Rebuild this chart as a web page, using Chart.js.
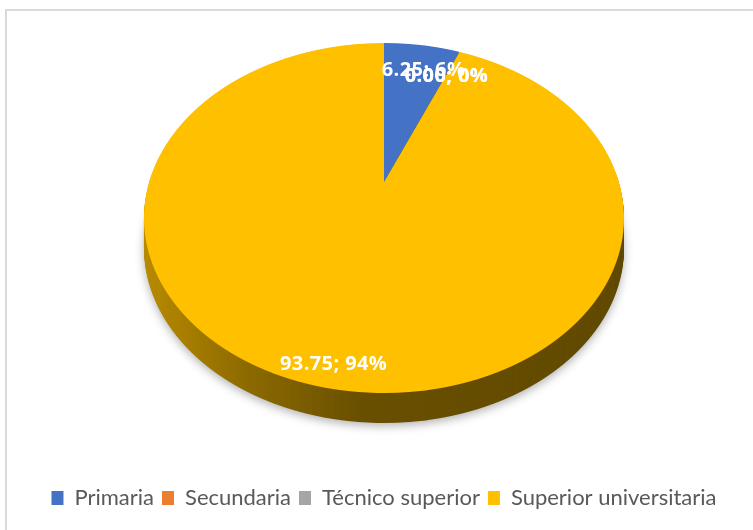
<!DOCTYPE html>
<html>
<head>
<meta charset="utf-8">
<script src="https://cdn.jsdelivr.net/npm/chart.js@4.4.0/dist/chart.umd.min.js"></script>
<style>
    body { margin: 0; background: #ffffff; }
    #frame {
        position: absolute; left: 5px; top: 9px;
        width: 800px; height: 600px;
        border: 2px solid #d9d9d9;
    }
    #wrap { position: absolute; left: 0; top: 0; width: 753px; height: 530px; overflow: hidden; }
    canvas { position: absolute; left: 0; top: 0; }
</style>
</head>
<body>
<div id="wrap">
    <div id="frame"></div>
    <canvas id="pieChart" width="753" height="530"></canvas>
</div>
<script>
// Data
const levels = ['Primaria', 'Secundaria', 'Técnico superior', 'Superior universitaria'];
const shares = [6.25, 0, 0, 93.75];
const sliceColors = ['#4472c4', '#ed7d31', '#a5a5a5', '#ffc000'];

// 3D look: the flat pie is projected in perspective onto the page
const APEX_Y = 182;      // screen y of the pie centre
const RX = 240;          // widest half width on screen
const RY_BACK = 139;     // apex to far rim
const RY_FRONT = 211;    // apex to near rim
const DEPTH = 30;        // thickness of the side wall

const pie3dPlugin = {
    id: 'pie3d',
    beforeDatasetsDraw: function(chart) {
        const ctx = chart.ctx;
        const arcs = chart.getDatasetMeta(0).data;
        if (!arcs.length) return false;
        const cx = arcs[0].x, cy = arcs[0].y, R = arcs[0].outerRadius;
        const W = chart.width, H = chart.height;

        // perspective: X = cx + K*u/(1-a*v), Y = APEX_Y + L*v/(1-a*v)
        const a = (RY_FRONT - RY_BACK) / (RY_FRONT + RY_BACK);
        const L = RY_BACK * (1 + a);
        const K = RX * Math.sqrt(1 - a * a);
        const vAt = function(d) { return d / (L + a * d); };
        const screenY = function(v) { return APEX_Y + L * v / (1 - a * v); };
        const screenX = function(u, v) { return cx + K * u / (1 - a * v); };

        // draw the pie one screen row at a time, each row with its own scale
        function drawFace(target) {
            const y0 = Math.floor(APEX_Y - RY_BACK) - 1;
            const y1 = Math.ceil(APEX_Y + RY_FRONT) + 1;
            for (let y = y0; y < y1; y++) {
                const v0 = vAt(y - APEX_Y), v1 = vAt(y + 1 - APEX_Y);
                if (v1 <= -1 || v0 >= 1) continue;
                const wm = 1 / (1 - a * (v0 + v1) / 2);
                target.save();
                target.beginPath();
                target.rect(0, y, W, 1);
                target.clip();
                target.translate(cx, y);
                target.scale(K * wm / R, 1 / ((v1 - v0) * R));
                target.translate(-cx, -(cy + v0 * R));
                arcs.forEach(function(arc) {
                    if (arc.endAngle - arc.startAngle > 0) arc.draw(target);
                });
                target.restore();
            }
        }

        // side wall: darkened copy of the face, stacked downwards
        const off = document.createElement('canvas');
        off.width = W;
        off.height = H;
        const octx = off.getContext('2d');
        drawFace(octx);
        octx.globalCompositeOperation = 'source-atop';
        const grad = octx.createLinearGradient(cx - RX, 0, cx + RX, 0);
        grad.addColorStop(0, 'rgba(0,0,0,0.28)');
        grad.addColorStop(0.22, 'rgba(0,0,0,0.45)');
        grad.addColorStop(0.45, 'rgba(0,0,0,0.59)');
        grad.addColorStop(1, 'rgba(0,0,0,0.62)');
        octx.fillStyle = grad;
        octx.fillRect(0, 0, W, H);

        ctx.save();
        ctx.shadowColor = 'rgba(0,0,0,0.3)';
        ctx.shadowBlur = 10;
        ctx.shadowOffsetY = 3;
        ctx.drawImage(off, 0, DEPTH);
        ctx.restore();
        for (let k = DEPTH - 1; k >= 1; k--) {
            ctx.drawImage(off, 0, k);
        }

        // top face
        drawFace(ctx);

        // data labels: "value; percent"
        const total = shares.reduce(function(s, b) { return s + b; }, 0);
        ctx.save();
        ctx.font = 'bold 20px "Open Sans"';
        ctx.letterSpacing = '0.4px';
        ctx.fillStyle = '#ffffff';
        ctx.textAlign = 'center';
        ctx.textBaseline = 'middle';
        arcs.forEach(function(arc, i) {
            const v = shares[i];
            const mid = (arc.startAngle + arc.endAngle) / 2;
            const f = v / total > 0.5 ? 0.9 : 0.8;
            const pu = f * Math.cos(mid), pv = f * Math.sin(mid);
            const text = v.toFixed(2) + '; ' + Math.round(v / total * 100) + '%';
            ctx.fillText(text, screenX(pu, pv) + (v > 0 && v / total < 0.5 ? 8 : 0), screenY(pv) + 2);
        });
        ctx.restore();
        return false;
    }
};

const pieChart = new Chart(document.getElementById('pieChart').getContext('2d'), {
    type: 'pie',
    data: {
        labels: levels,
        datasets: [{
            data: shares,
            backgroundColor: sliceColors,
            borderWidth: 0,
            radius: 240
        }]
    },
    options: {
        responsive: false,
        animation: false,
        events: [],
        layout: { padding: { left: 15, right: 0, top: 10, bottom: 11 } },
        plugins: {
            legend: {
                display: true,
                position: 'bottom',
                labels: {
                    boxWidth: 12,
                    boxHeight: 14,
                    padding: 8,
                    color: '#595959',
                    font: { family: 'Lato', size: 22 }
                }
            },
            tooltip: { enabled: false }
        }
    },
    plugins: [pie3dPlugin]
});
</script>
</body>
</html>
